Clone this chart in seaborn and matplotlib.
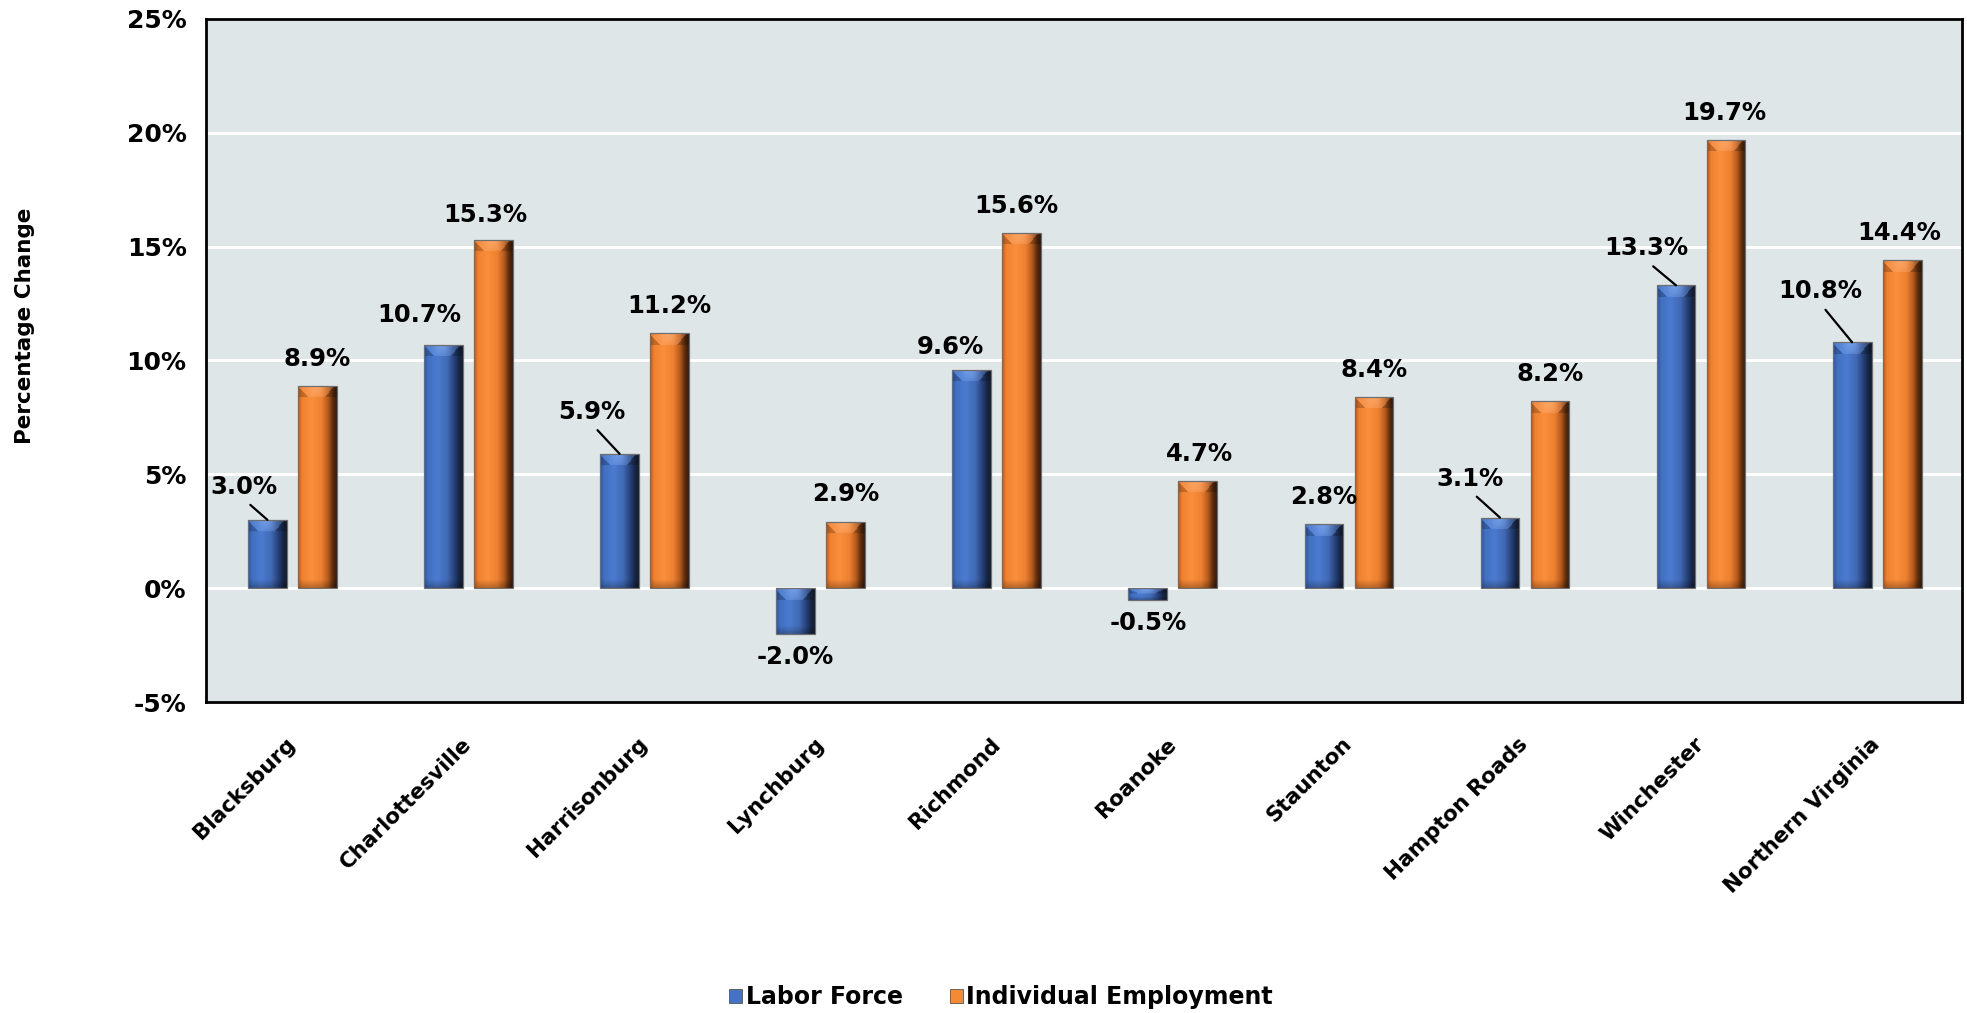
import numpy as np
import pandas as pd
import matplotlib
matplotlib.use("Agg")
import matplotlib.pyplot as plt
import seaborn as sns
from matplotlib.colors import to_rgb
from matplotlib.patches import Rectangle

# ---- data -------------------------------------------------------------
cities = ["Blacksburg", "Charlottesville", "Harrisonburg", "Lynchburg", "Richmond",
          "Roanoke", "Staunton", "Hampton Roads", "Winchester", "Northern Virginia"]
labor_force = [3.0, 10.7, 5.9, -2.0, 9.6, -0.5, 2.8, 3.1, 13.3, 10.8]
employment = [8.9, 15.3, 11.2, 2.9, 15.6, 4.7, 8.4, 8.2, 19.7, 14.4]
series_names = ["Labor Force", "Individual Employment"]
y_ticks = [-5, 0, 5, 10, 15, 20, 25]

# value-label placement (pixel offsets from the bar end) and leader lines
lf_label_offsets = [(-24, 33), (-24, 30), (-28, 42), (0, -23), (-21, 23),
                    (0, -23), (0, 27), (-30, 39), (-30, 37), (-32, 51)]
lf_leaders = [True, False, True, False, False, False, False, True, True, True]
ie_label_offsets = [(0, 27), (-8, 25), (0, 27), (0, 28), (-5, 27),
                    (2, 27), (0, 27), (0, 27), (-2, 27), (-3, 27)]

colors = {"Labor Force": "#4472c4", "Individual Employment": "#f58a34"}

df = pd.DataFrame({
    "city": cities * 2,
    "series": [series_names[0]] * len(cities) + [series_names[1]] * len(cities),
    "value": labor_force + employment,
})

# ---- figure -----------------------------------------------------------
sns.set_theme(style="white")
plt.rcParams["font.family"] = ["DejaVu Sans"]
for key in ["text.color", "axes.labelcolor", "xtick.color", "ytick.color"]:
    plt.rcParams[key] = "black"

W, H, DPI = 1967, 1013, 100
fig = plt.figure(figsize=(W / DPI, H / DPI), dpi=DPI)
ax = fig.add_axes([206 / W, 1 - 702 / H, (1962 - 206) / W, (702 - 19) / H])
ax.set_facecolor("#dfe6e8")

sns.barplot(data=df, x="city", y="value", hue="series", order=cities,
            hue_order=series_names, palette=colors, width=0.568, gap=0.225,
            saturation=1, legend=False, errorbar=None, ax=ax, zorder=3)

# ---- bevelled bar shading --------------------------------------------
profiles = {
    0: [(0.00, "#33569a"), (0.10, "#4170c2"), (0.35, "#4b7bd0"), (0.60, "#4169b5"),
        (0.78, "#27427c"), (0.90, "#16284c"), (1.00, "#111d36")],
    1: [(0.00, "#c0611f"), (0.10, "#ee8232"), (0.35, "#f98e3b"), (0.60, "#ed8131"),
        (0.78, "#b8591a"), (0.90, "#602d0b"), (1.00, "#3a1a06")],
}
highlight = {0: np.array(to_rgb("#86b0f5")), 1: np.array(to_rgb("#ffb27a"))}
px_per_unit = (702 - 19) / 30.0


def profile_colors(stops, n):
    u = np.linspace(0, 1, n)
    pos = [s[0] for s in stops]
    rgb = np.array([to_rgb(s[1]) for s in stops])
    return np.stack([np.interp(u, pos, rgb[:, k]) for k in range(3)], axis=1)


for level, container in enumerate(ax.containers):
    for patch in container.patches:
        x0 = patch.get_x()
        w = patch.get_width()
        y_a = patch.get_y()
        y_b = y_a + patch.get_height()
        y_lo, y_hi = min(y_a, y_b), max(y_a, y_b)
        ncol = 40
        nrow = max(int(round((y_hi - y_lo) * px_per_unit)), 2)
        base = profile_colors(profiles[level], ncol)
        img = np.repeat(base[None, :, :], nrow, axis=0)
        u = np.linspace(0, 1, ncol)
        # top bevel: a lighter tapered cap with a soft central glow
        bev = min(12, max(nrow // 2, 1))
        for r in range(bev):
            t = r / bev
            inside = np.abs(u - 0.47) < (0.5 - 0.3 * t)
            glow = np.exp(-((u - 0.47) / 0.2) ** 2) * (1 - t) ** 0.7
            mix = np.where(inside, 0.25 + 0.45 * glow, 0.0)[:, None]
            img[r] = img[r] * (1 - mix) + highlight[level] * mix
            img[r, ~inside] *= 0.8
        # bottom bevel: darker base band
        bb = min(8, max(nrow // 3, 1))
        for r in range(bb):
            t = r / bb
            img[nrow - 1 - r] *= 0.75 + 0.25 * t
        im = ax.imshow(np.clip(img, 0, 1), extent=[x0, x0 + w, y_lo, y_hi],
                       origin="upper", aspect="auto", interpolation="bilinear",
                       zorder=3.1)
        im.set_clip_path(patch)
        patch.set_facecolor("none")
        patch.set_edgecolor("#6e6e6e")
        patch.set_linewidth(0.9)
        patch.set_zorder(3.2)

# ---- value labels -----------------------------------------------------
label_font = dict(fontsize=17.5, fontweight="bold", color="black")
for level, (vals, offs) in enumerate([(labor_force, lf_label_offsets),
                                      (employment, ie_label_offsets)]):
    for i, patch in enumerate(ax.containers[level].patches):
        v = vals[i]
        cx = patch.get_x() + patch.get_width() / 2
        dx, dy = offs[i]
        arrow = None
        if level == 0 and lf_leaders[i]:
            arrow = dict(arrowstyle="-", color="black", lw=1.6,
                         shrinkA=3, shrinkB=0, relpos=(0.5, 0.0))
        ax.annotate(f"{v:.1f}%", xy=(cx, v), xytext=(dx, dy),
                    textcoords="offset pixels", ha="center", va="center",
                    arrowprops=arrow, zorder=5, **label_font)

# ---- axes styling -----------------------------------------------------
ax.set_xlim(-0.491, 9.482)
ax.set_ylim(-5, 25)
ax.set_yticks(y_ticks)
ax.set_yticklabels([f"{t}%" for t in y_ticks], fontsize=18, fontweight="bold")
ax.yaxis.grid(True, color="white", linewidth=2.2, zorder=0)
ax.set_axisbelow(True)
ax.tick_params(axis="both", length=0)
ax.tick_params(axis="y", pad=14)
ax.tick_params(axis="x", pad=28)
ax.set_xlabel("")
ax.set_ylabel("")
for lbl in ax.get_xticklabels():
    lbl.set_rotation(45)
    lbl.set_horizontalalignment("right")
    lbl.set_verticalalignment("center")
    lbl.set_rotation_mode("anchor")
    lbl.set_fontsize(15.5)
    lbl.set_fontweight("bold")
for side in ["left", "right", "top", "bottom"]:
    ax.spines[side].set_visible(True)
    ax.spines[side].set_color("black")
    ax.spines[side].set_linewidth(2.0)

fig.text(25 / W, 1 - 326 / H, "Percentage Change", rotation=90,
         ha="center", va="center", fontsize=15.5, fontweight="bold")

handles = [Rectangle((0, 0), 1, 1, facecolor=colors[s], edgecolor="#555555", lw=0.6)
           for s in series_names]
fig.legend(handles, series_names, loc="center", bbox_to_anchor=(1001 / W, 1 - 997 / H),
           ncol=2, frameon=False, handlelength=0.55, handleheight=0.55,
           handletextpad=0.15, columnspacing=2.0,
           prop={"family": ["DejaVu Sans"], "weight": "bold", "size": 17})

fig.savefig("out.png", dpi=DPI)
